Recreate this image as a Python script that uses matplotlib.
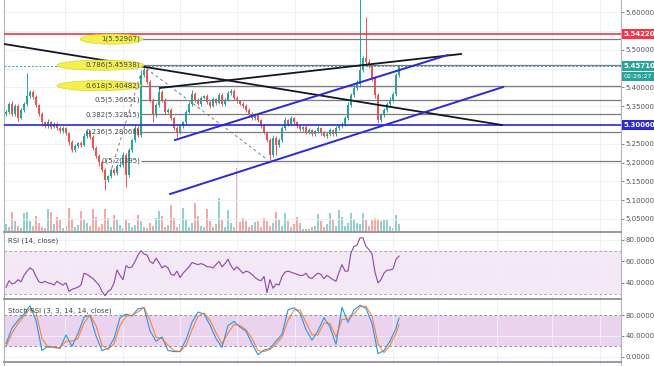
import matplotlib
matplotlib.use("Agg")
import matplotlib.pyplot as plt
import matplotlib.transforms as mtransforms
from matplotlib.patches import Ellipse
import numpy as np

plt.rcParams['font.family'] = ['DejaVu Sans']

# ---------------- data ----------------
first_open = 5.3300
closes = [
    5.3347, 5.3560, 5.3293, 5.3507, 5.3187, 5.3400, 5.3560, 5.3773, 5.3880, 5.3747,
    5.3533, 5.3293, 5.3080, 5.2973, 5.3080, 5.2947, 5.3027, 5.2920, 5.2840, 5.2920,
    5.2787, 5.2547, 5.2333, 5.2440, 5.2520, 5.2467, 5.2707, 5.2840, 5.2680, 5.2387,
    5.2173, 5.2013, 5.1800, 5.1533, 5.1640, 5.1800, 5.1720, 5.1907, 5.1933, 5.2200,
    5.1667, 5.2333, 5.2600, 5.2920, 5.2733, 5.4333, 5.4467, 5.4147, 5.3667, 5.3267,
    5.3533, 5.3880, 5.3667, 5.3347, 5.3400, 5.3187, 5.2920, 5.2787, 5.2973, 5.3080,
    5.3347, 5.3560, 5.3827, 5.3667, 5.3560, 5.3720, 5.3773, 5.3613, 5.3507, 5.3693,
    5.3587, 5.3800, 5.3560, 5.3667, 5.3853, 5.3907, 5.3720, 5.3640, 5.3560, 5.3507,
    5.3400, 5.3293, 5.3187, 5.3267, 5.3133, 5.2973, 5.2813, 5.2600, 5.2200, 5.2653,
    5.2467, 5.2600, 5.2920, 5.3133, 5.3027, 5.3187, 5.3080, 5.2973, 5.2893, 5.2947,
    5.2813, 5.2867, 5.2760, 5.2840, 5.2920, 5.2787, 5.2707, 5.2760, 5.2867, 5.2760,
    5.2920, 5.2973, 5.3027, 5.3187, 5.3533, 5.3800, 5.3987, 5.4093, 5.4467, 5.4787,
    5.4680, 5.4573, 5.4253, 5.3800, 5.3133, 5.3267, 5.3400, 5.3560, 5.3667, 5.3827,
    5.4333, 5.4571]

up_wick = [
    0.006, 0.004, 0.008, 0.005, 0.004, 0.006, 0.005, 0.061, 0.005, 0.004,
    0.006, 0.003, 0.005, 0.004, 0.007, 0.003, 0.006, 0.004, 0.005, 0.006,
    0.004, 0.003, 0.005, 0.006, 0.004, 0.005, 0.007, 0.004, 0.003, 0.005,
    0.004, 0.006, 0.003, 0.005, 0.004, 0.006, 0.005, 0.004, 0.007, 0.008,
    0.005, 0.006, 0.004, 0.007, 0.005, 0.008, 0.011, 0.006, 0.005, 0.004,
    0.006, 0.010, 0.004, 0.005, 0.006, 0.004, 0.003, 0.005, 0.006, 0.004,
    0.005, 0.006, 0.010, 0.004, 0.005, 0.006, 0.004, 0.005, 0.003, 0.006,
    0.004, 0.005, 0.006, 0.004, 0.005, 0.006, 0.004, 0.005, 0.003, 0.004,
    0.005, 0.004, 0.006, 0.005, 0.004, 0.003, 0.005, 0.004, 0.006, 0.007,
    0.005, 0.006, 0.005, 0.007, 0.004, 0.005, 0.003, 0.004, 0.005, 0.003,
    0.004, 0.005, 0.003, 0.004, 0.005, 0.003, 0.004, 0.005, 0.004, 0.003,
    0.005, 0.004, 0.005, 0.006, 0.007, 0.006, 0.010, 0.010, 0.220, 0.006,
    0.110, 0.008, 0.006, 0.005, 0.006, 0.005, 0.006, 0.005, 0.007, 0.006,
    0.006, 0.004]

dn_wick = [
    0.005, 0.006, 0.004, 0.005, 0.007, 0.004, 0.005, 0.006, 0.004, 0.005,
    0.006, 0.005, 0.010, 0.004, 0.005, 0.006, 0.004, 0.005, 0.006, 0.004,
    0.005, 0.008, 0.006, 0.004, 0.005, 0.006, 0.004, 0.005, 0.006, 0.005,
    0.006, 0.010, 0.005, 0.027, 0.006, 0.004, 0.005, 0.006, 0.004, 0.005,
    0.032, 0.006, 0.005, 0.004, 0.006, 0.005, 0.004, 0.006, 0.005, 0.019,
    0.005, 0.004, 0.006, 0.005, 0.004, 0.006, 0.005, 0.011, 0.004, 0.005,
    0.006, 0.004, 0.005, 0.006, 0.004, 0.005, 0.003, 0.005, 0.006, 0.004,
    0.005, 0.004, 0.006, 0.005, 0.003, 0.004, 0.005, 0.006, 0.004, 0.005,
    0.006, 0.004, 0.005, 0.006, 0.004, 0.005, 0.006, 0.005, 0.013, 0.006,
    0.027, 0.005, 0.004, 0.006, 0.005, 0.004, 0.005, 0.006, 0.004, 0.005,
    0.004, 0.005, 0.006, 0.004, 0.005, 0.006, 0.004, 0.005, 0.004, 0.006,
    0.005, 0.004, 0.005, 0.006, 0.005, 0.006, 0.005, 0.006, 0.007, 0.006,
    0.005, 0.006, 0.008, 0.007, 0.008, 0.006, 0.005, 0.006, 0.005, 0.006,
    0.005, 0.004]

volume = [
    8, 5, 20, 11, 6, 4, 19, 20, 11, 6,
    16, 9, 5, 4, 23, 20, 8, 15, 12, 4,
    6, 24, 12, 5, 7, 21, 12, 9, 6, 23,
    15, 5, 8, 23, 14, 5, 17, 12, 7, 4,
    13, 9, 5, 7, 17, 11, 5, 4, 9, 6,
    14, 21, 16, 5, 7, 27, 14, 5, 8, 24,
    12, 5, 9, 29, 16, 6, 5, 23, 11, 5,
    8, 34, 13, 5, 22, 9, 5, 64, 10, 14,
    11, 5, 7, 10, 11, 5, 14, 11, 6, 9,
    20, 13, 6, 19, 11, 5, 8, 15, 9, 3,
    3, 3, 5, 6, 18, 11, 5, 8, 19, 13,
    6, 22, 15, 6, 9, 19, 13, 9, 8, 19,
    12, 6, 13, 14, 13, 11, 13, 12, 6, 4,
    17, 8]

rsi = [
    36, 42, 39, 40, 43, 41, 47, 51, 54, 52,
    46, 41, 40, 41.5, 40, 39.5, 38, 41.5, 39.5, 38,
    40, 32, 34, 35, 36, 38, 49, 48, 46, 44,
    41, 38, 32, 28, 32, 34, 40, 52, 47, 43,
    56, 54, 55, 60, 66, 70, 67, 66, 60, 58,
    63, 59, 54, 56, 54, 48, 47, 51, 45, 49,
    52, 55, 59, 58, 57, 58, 57, 55, 55, 54,
    57, 60, 55, 58, 62, 56, 52, 55, 52, 49,
    51, 50, 48, 45, 43, 42, 46, 31, 43, 35,
    39, 38, 46, 50, 51, 50, 49, 48, 47, 47,
    49, 45, 44, 47, 49, 48, 44, 47, 45, 43,
    41.5, 50, 57, 51, 51, 68, 74, 75, 82, 82,
    74, 71, 67, 50, 40, 43, 49, 52, 52, 53,
    62, 65]

stoch_idx = list(range(0, 131, 2)) + [131]
stoch_k = [
    25, 55, 70, 82, 98, 70, 12, 20, 18, 16,
    42, 20, 45, 76, 80, 40, 12, 16, 35, 75,
    82, 78, 92, 94, 50, 30, 38, 12, 10, 10,
    33, 66, 86, 82, 61, 35, 18, 60, 68, 57,
    49, 25, 4, 13, 16, 30, 43, 90, 94, 84,
    52, 32, 50, 75, 57, 24, 95, 66, 90, 99,
    93, 64, 6, 12, 30, 55, 74]
stoch_d = [
    20, 45, 64, 78, 92, 85, 35, 18, 19, 17,
    30, 30, 35, 65, 80, 60, 22, 14, 25, 60,
    78, 80, 86, 95, 70, 38, 35, 22, 12, 10,
    22, 52, 78, 84, 70, 46, 25, 45, 62, 60,
    52, 35, 12, 10, 14, 24, 38, 70, 90, 90,
    66, 42, 42, 65, 64, 38, 72, 72, 82, 96,
    97, 78, 25, 8, 22, 45, 62]

fib_levels = ["1", "0.786", "0.618", "0.5", "0.382", "0.236", "0"]
fib_prices = [5.52907, 5.45938, 5.40482, 5.36651, 5.32815, 5.28068, 5.20395]

red_level = 5.54220
blue_level = 5.30060
last_price = 5.45710

# drawn trend lines: (bar index pair, price pair)
black_down = ([-0.67, 165.3], [5.516, 5.300])
black_up = ([51.3, 151.7], [5.3987, 5.4893])
blue_upper = ([56.3, 147.3], [5.260, 5.4867])
blue_lower = ([54.7, 165.7], [5.116, 5.4013])
fib_zigzag = ([35.3, 45.7, 87.3], [5.1853, 5.4573, 5.2067])

day_ticks = [19.7, 39, 58, 77, 96.3, 129, 144, 163.7, 182, 198]
price_ticks = [5.05, 5.10, 5.15, 5.20, 5.25, 5.35, 5.40, 5.50, 5.60]

# ---------------- figure ----------------
UP, DOWN = '#26a69a', '#ef5350'
GRID = '#eef0f5'
LBL = '#50535e'

idx = np.arange(len(closes))
close = np.array(closes)
opens = np.array([first_open] + closes[:-1])
highs = np.maximum(opens, close) + np.array(up_wick)
lows = np.minimum(opens, close) - np.array(dn_wick)
colors = np.where(close >= opens, UP, DOWN)

fig = plt.figure(figsize=(6.54, 3.66), dpi=100)
ax = fig.add_axes([4/654, 134/366, 617/654, 232/366])
ax_rsi = fig.add_axes([4/654, 67/366, 617/654, 66/366])
ax_st = fig.add_axes([4/654, 4/366, 617/654, 62/366])
ax_x = fig.add_axes([4/654, 0, 617/654, 3/366])

xlim = (-0.67, 205.0)

# volume under the candles
ax_vol = ax.twinx()
ax_vol.bar(idx, volume, width=0.7, color=colors, alpha=0.5, lw=0)
ax_vol.set_ylim(0, max(volume) * 3.6)
ax_vol.set_yticks([])
for s in ax_vol.spines.values():
    s.set_visible(False)
ax.set_zorder(ax_vol.get_zorder() + 1)
ax.patch.set_visible(False)

for a in (ax, ax_rsi, ax_st, ax_x):
    a.set_xlim(*xlim)
    a.set_xticks(day_ticks)
    a.set_xticklabels([])
    a.tick_params(axis='x', length=0)
    a.grid(axis='x', color=GRID, lw=0.7)
    a.yaxis.tick_right()
    a.tick_params(axis='y', labelsize=5, colors=LBL, length=2, pad=1.5, width=0.5)
    for side in ('left', 'right'):
        a.spines[side].set_color('#b2b5be')
        a.spines[side].set_linewidth(0.8)
    a.spines['top'].set_visible(False)
    a.spines['bottom'].set_color('#9598a1')
    a.spines['bottom'].set_linewidth(1.4)

ax.set_ylim(5.0147, 5.6333)
ax.set_yticks(price_ticks)
ax.set_yticklabels([f"{p:.5f}" for p in price_ticks])
for p in np.arange(5.05, 5.61, 0.05):
    ax.axhline(p, color=GRID, lw=0.7, zorder=0)

# candles
ax.vlines(idx, lows, highs, colors=colors, lw=0.7, zorder=3)
ax.bar(idx, np.maximum(np.abs(close - opens), 0.0015), bottom=np.minimum(opens, close),
       width=0.65, color=colors, lw=0, zorder=3)

# levels
ax.axhline(red_level, color='#f23645', lw=1.2, zorder=4)
ax.axhline(blue_level, color='#2a2ad6', lw=1.2, zorder=4)
ax.axhline(last_price, color=UP, lw=0.7, ls=(0, (2, 2)), zorder=4)
ax.hlines(fib_prices, 45, xlim[1], color='#787b86', lw=0.9, zorder=4)
ax.plot(*fib_zigzag, color='#787b86', lw=0.7, ls=(0, (3, 3)), zorder=4)

ax.plot(*black_down, color='#131722', lw=1.3, zorder=5)
ax.plot(*black_up, color='#131722', lw=1.3, zorder=5)
ax.plot(*blue_upper, color='#2a2ad6', lw=1.4, zorder=5)
ax.plot(*blue_lower, color='#2a2ad6', lw=1.4, zorder=5)

# fib labels with the yellow highlight ellipses
for cx, w, p in ((35.2, 21, fib_prices[0]), (31.5, 29, fib_prices[1]), (31.0, 28, fib_prices[2])):
    ax.add_patch(Ellipse((cx, p), w, 0.027, fc='#f3f04b', ec='#d8d53c', lw=0.5, zorder=5))
for lev, p in zip(fib_levels, fib_prices):
    ax.text(44.8, p, f"{lev}({p:.5f})", ha='right', va='center', fontsize=5,
            color='#434651', zorder=6)

# price tags on the scale
tr = mtransforms.blended_transform_factory(ax.transAxes, ax.transData)
for p, fc in ((red_level, '#f23645'), (last_price, '#26a69a'), (blue_level, '#2a2ad6')):
    ax.text(1.004, p, f"{p:.5f}", transform=tr, ha='left', va='center', fontsize=5,
            color='white', fontweight='bold', clip_on=False, zorder=10,
            bbox=dict(boxstyle='square,pad=0.28', fc=fc, ec='none'))
ax.annotate("02:26:27", xy=(1.004, last_price), xycoords=tr, xytext=(0, -7.5),
            textcoords='offset points', ha='left', va='center', fontsize=4.6,
            color='white', annotation_clip=False, zorder=10,
            bbox=dict(boxstyle='square,pad=0.3', fc='#26a69a', ec='none'))

# RSI pane
ax_rsi.set_ylim(25, 86.5)
ax_rsi.axhspan(30, 70, color='#9c27b0', alpha=0.1, lw=0)
for lv in (30, 70):
    ax_rsi.axhline(lv, color='#9598a1', lw=0.6, ls=(0, (3, 3)))
ax_rsi.plot(idx, rsi, color='#8e44ad', lw=0.8)
ax_rsi.set_yticks([40, 60, 80])
ax_rsi.set_yticklabels(["40.0000", "60.0000", "80.0000"])
ax_rsi.grid(axis='y', color=GRID, lw=0.7)
ax_rsi.text(0.007, 0.88, "RSI (14, close)", transform=ax_rsi.transAxes, fontsize=5,
            color='#434651', va='center')

# Stoch RSI pane
ax_st.set_ylim(-10, 109)
ax_st.axhspan(20, 80, color='#9c27b0', alpha=0.2, lw=0)
for lv in (20, 80):
    ax_st.axhline(lv, color='#787b86', lw=0.6, ls=(0, (3, 3)))
ax_st.plot(stoch_idx, stoch_k, color='#2196f3', lw=0.8)
ax_st.plot(stoch_idx, stoch_d, color='#ff6d00', lw=0.8, alpha=0.8)
ax_st.set_yticks([0, 40, 80])
ax_st.set_yticklabels(["0.0000", "40.0000", "80.0000"])
ax_st.grid(axis='y', color=GRID, lw=0.7)
ax_st.text(0.007, 0.82, "Stoch RSI (3, 3, 14, 14, close)", transform=ax_st.transAxes,
           fontsize=5, color='#434651', va='center')

ax_x.set_yticks([])
ax_x.spines['bottom'].set_visible(False)

fig.savefig("out.png", dpi=100)
